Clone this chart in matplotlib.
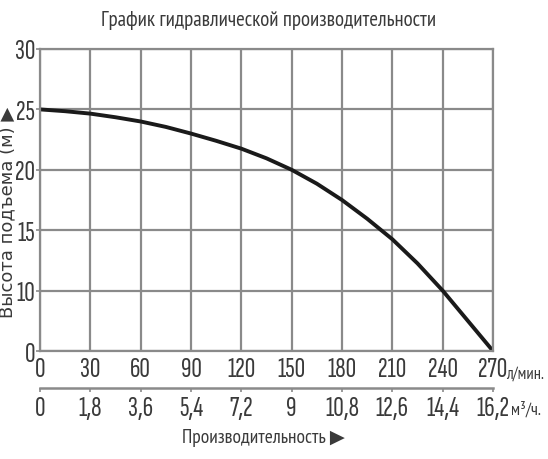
import numpy as np
import matplotlib
matplotlib.use("Agg")
import matplotlib.pyplot as plt
from matplotlib.scale import FuncScale

# Data
flow_lpm = [0, 15, 30, 45, 60, 75, 90, 105, 120, 135, 150, 165, 180, 195, 210, 225, 240, 270]
head_m = [25.0, 24.85, 24.65, 24.35, 24.0, 23.55, 23.0, 22.4, 21.75, 20.95, 20.0,
          18.85, 17.5, 15.95, 14.25, 12.25, 10.0, 0.0]

x_ticks = [0, 30, 60, 90, 120, 150, 180, 210, 240, 270]
x_labels = ["0", "30", "60", "90", "120", "150", "180", "210", "240", "270"]
x2_ticks = [0, 1.8, 3.6, 5.4, 7.2, 9, 10.8, 12.6, 14.4, 16.2]
x2_labels = ["0", "1,8", "3,6", "5,4", "7,2", "9", "10,8", "12,6", "14,4", "16,2"]
y_ticks = [0, 10, 15, 20, 25, 30]
y_labels = ["0", "10", "15", "20", "25", "30"]

title = "График гидравлической производительности"
ylabel = "Высота подъема (м) ▶"
xlabel = "Производительность ▶"

DIGITS = ["Sofia Sans Extra Condensed", "DejaVu Sans"]
NARROW = ["PT Sans Narrow", "DejaVu Sans"]
REG = ["DejaVu Sans"]
TXT = "#3a3a3a"

fig = plt.figure(figsize=(5.48, 4.60), dpi=100)
ax = fig.add_axes([40/548, 1-352/460, 453/548, 302/460])

# axis as drawn in the original: 0..10 occupies one grid step
def fwd(v):
    v = np.asarray(v, dtype=float)
    return np.where(v < 10, v * 0.5, v - 5)

def inv(s):
    s = np.asarray(s, dtype=float)
    return np.where(s < 5, s * 2, s + 5)

ax.set_yscale(FuncScale(ax, (fwd, inv)))
ax.set_xlim(0, 270)
ax.set_ylim(0, 30)

grid_c = "#8a8a8a"
ax.set_xticks(x_ticks)
ax.set_xticklabels(x_labels, fontfamily=DIGITS, fontsize=21, color=TXT)
ax.set_yticks(y_ticks)
ax.set_yticklabels(y_labels, fontfamily=DIGITS, fontsize=21, color=TXT)
ax.tick_params(axis="x", length=0, pad=4)
ax.tick_params(axis="y", length=3, width=1.2, color=grid_c, pad=0.5)
ax.grid(True, color=grid_c, lw=1.6)
for s in ax.spines.values():
    s.set_color(grid_c)
    s.set_linewidth(1.6)

ax.plot(flow_lpm, head_m, color="#1a1a1a", lw=2.8, solid_capstyle="round")

# secondary axis m3/h
sec = ax.secondary_xaxis(-0.1225, functions=(lambda x: x * 0.06, lambda x: x / 0.06))
sec.set_xticks(x2_ticks)
sec.set_xticklabels(x2_labels, fontfamily=DIGITS, fontsize=21, color=TXT)
sec.tick_params(axis="x", length=3, width=1.2, color=grid_c, pad=3)
sec.spines["bottom"].set_color(grid_c)
sec.spines["bottom"].set_linewidth(1.8)

fig.text(506/548, 1-375/460, "л/мин.", fontfamily=NARROW, fontsize=12, color=TXT,
         ha="left", va="center")
fig.text(511/548, 1-410/460, "м³/ч.", fontfamily=NARROW, fontsize=12.5, color=TXT,
         ha="left", va="center")

fig.text(269/548, 1-20/460, title, fontfamily=NARROW, fontsize=15, color=TXT,
         ha="center", va="center")
fig.text(263/548, 1-438/460, xlabel, fontfamily=NARROW, fontsize=14, color=TXT,
         ha="center", va="center")
fig.text(7.5/548, 1-212/460, ylabel, fontfamily=REG, fontsize=13, color=TXT,
         ha="center", va="center", rotation=90)

fig.savefig("out.png", dpi=100)
